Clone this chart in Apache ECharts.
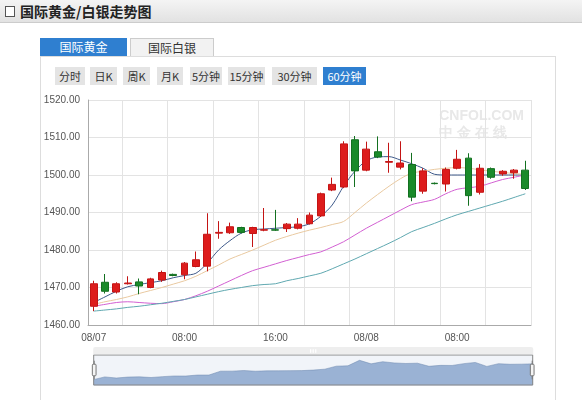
<!DOCTYPE html>
<html>
<head>
<meta charset="utf-8">
<script src="https://cdn.jsdelivr.net/npm/echarts@6/dist/echarts.min.js"></script>
<style>
body{margin:0;width:582px;height:400px;overflow:hidden;background:#fff;font-family:"Noto Sans CJK SC",sans-serif;position:relative}
#bar{position:absolute;left:0;top:0;width:582px;height:22px;background:linear-gradient(#f4f4f4,#e2e2e2);border-bottom:1px solid #ccc}
#bar span{position:absolute;left:20px;top:1px;font-size:14px;font-weight:bold;color:#222}
#bar i{position:absolute;left:5px;top:6px;width:8px;height:9px;border:1px solid #555;background:#fff}
.tab{position:absolute;top:38px;height:18px;font-size:12px;line-height:18px;text-align:center}
#panel{position:absolute;left:40px;top:56px;width:514px;height:350px;border:1px solid #ddd;border-bottom:none}
.btn{position:absolute;top:67px;height:18px;line-height:18px;font-size:11px;background:#e4e4e4;color:#333;text-align:center}
#map{position:absolute;left:0;top:0;width:582px;height:400px}
</style>
</head>
<body>
<div id="bar"><i></i><span>国际黄金/白银走势图</span></div>
<div id="panel"></div>
<div class="tab" style="left:40px;width:87px;background:#2f7fd0;color:#fff">国际黄金</div>
<div class="tab" style="left:130px;width:82px;background:#f2f2f2;border:1px solid #ccc;border-bottom:none;color:#333;height:17px">国际白银</div>
<div id="btns"></div>
<div id="map"></div>
<script>
var categories = [];
var btnNames = ['分时','日K','周K','月K','5分钟','15分钟','30分钟','60分钟'];
var btnLeft = [55,90,123,157,190,228,272,323];
var btnWidth = [30,27,27,26,32,37,45,43];
var yTicks = [1460,1470,1480,1490,1500,1510,1520];
// open, close, low, high
var kdata = [
 [1465,1471,1463.7,1471.8],[1471.4,1469,1468.4,1473.6],[1468.8,1471,1468.4,1471.4],[1471,1471.2,1470.8,1473],
 [1471.5,1470.4,1468.2,1472.4],[1470,1472.3,1469.8,1472.6],[1472,1474,1471.5,1474.5],[1473.5,1473.2,1473,1473.7],
 [1473.4,1476.5,1472.2,1476.8],[1475.6,1477.4,1475.4,1479.6],[1475.7,1484.2,1474.3,1489.8],[1484.5,1484.7,1483,1487.7],
 [1484.6,1486.2,1484.3,1487.3],[1486,1484.7,1484.4,1486.2],[1484.4,1486,1480.8,1486.2],[1485.3,1485.4,1485,1491.2],
 [1485.4,1485.3,1485.1,1490.7],[1485.7,1486.9,1484.8,1487.2],[1485.8,1486.9,1485.5,1488.5],[1487,1489.3,1486.8,1490],
 [1489.1,1495,1488.8,1495.3],[1496,1497.5,1495.7,1499.3],[1496.8,1508.3,1496.5,1509],[1509.4,1501.1,1496.8,1510.4],
 [1501.3,1506.9,1501,1508.9],[1506.2,1504.8,1504.5,1510.3],[1503.4,1503.6,1500.6,1508.6],[1502.1,1503.2,1501.5,1509],
 [1502.8,1494.1,1493,1505.9],[1495.7,1501.1,1495,1501.8],[1497.8,1497.7,1497.5,1498],[1497.6,1501.5,1495.6,1502],
 [1501.8,1504.2,1501.5,1506.7],[1504.5,1494.5,1491.8,1505.8],[1495.4,1501.8,1494.8,1502.9],[1501.7,1499.4,1499,1502],
 [1500.3,1501,1499.8,1501.3],[1500.6,1501.3,1499,1501.6],[1501.3,1496.4,1496,1503.8]
];
var ma5 = [1466,1467.5,1469,1470.2,1470.8,1471.3,1471.8,1472.6,1473.2,1473.8,1476.5,1480,1482.5,1484.5,1485.4,1485.6,
 1485.8,1486,1486.2,1487,1489,1492,1497,1501,1503.8,1504.8,1504.9,1504,1503,1501.8,1500.2,1500,1500,1500,1500,1500,1500,1500,1500];
var ma10 = [1465.5,1466.2,1466.8,1467.5,1468.4,1469.2,1470,1470.9,1471.8,1473,1474.5,1476,1477.6,1478.8,1480,1481.3,
 1482.6,1483.6,1484.5,1485.3,1486,1486.8,1487.6,1490,1492.5,1494.8,1497,1499,1500.5,1501,1501.5,1501.8,1502,1501.8,1501.4,1501,1500.7,1500.4,1500.2];
var ma20 = [1465,1465.5,1466,1466.2,1466,1465.8,1465.7,1466.2,1466.8,1467.8,1469,1470.4,1471.8,1473.2,1474.5,1475.4,
 1476.3,1477.2,1478,1478.8,1479.5,1480.8,1482.2,1484,1485.8,1487.4,1489,1490.6,1492.1,1492.8,1493.5,1495,1496.2,1496.6,1497,1497.9,1498.8,1499.4,1500];
var ma30 = [1463.7,1464,1464.3,1464.7,1465,1465.4,1465.8,1466.3,1466.8,1467.5,1468.2,1468.9,1469.5,1470,1470.5,1470.8,
 1471,1471.8,1472.4,1473.1,1473.8,1475,1476.3,1477.6,1479,1480.4,1481.8,1483.3,1484.9,1486,1487.1,1488.3,1489.4,1490.3,1491.2,1492.1,1493,1494,1495];

for (var i = 0; i < kdata.length; i++) {
  var d = i < 24 ? '08/07' : '08/08', h = i % 24;
  categories.push(d + ' ' + (h < 10 ? '0' : '') + h + ':00');
}

var btns = document.getElementById('btns');
btnNames.forEach(function (n, i) {
  var b = document.createElement('div');
  b.className = 'btn';
  b.style.left = btnLeft[i] + 'px';
  b.style.width = btnWidth[i] + 'px';
  b.textContent = n;
  if (i == 7) { b.style.background = '#2f7fd0'; b.style.color = '#fff'; }
  btns.appendChild(b);
});

var chart = echarts.init(document.getElementById('map'));
function maLine(name, data, color) {
  return { name: name, type: 'line', data: data, symbol: 'none', smooth: 0.3,
    lineStyle: { width: 1, color: color }, z: 1 };
}
chart.setOption({
  animation: false,
  graphic: [{ type: 'text', right: 58, top: 108, z: 0,
    style: { text: 'CNFOL.COM\n中 金 在 线', fill: '#e8e8e8', font: 'bold 14px sans-serif', lineHeight: 17, align: 'center' } }],
  grid: { left: 88, right: 51, top: 100, bottom: 75 },
  xAxis: {
    type: 'category', data: categories, boundaryGap: true,
    axisLine: { lineStyle: { color: '#aaa' } },
    axisTick: { show: false },
    splitLine: { show: true, interval: function (i) { return i % 4 == 3; }, lineStyle: { color: '#e3e3e3' } },
    axisLabel: { interval: function (i) { return i % 8 == 0; }, color: '#555', fontSize: 10,
      formatter: function (v) { var p = v.split(' '); return p[1] == '00:00' ? p[0] : p[1]; } }
  },
  yAxis: {
    type: 'value', min: yTicks[0], max: yTicks[yTicks.length - 1], interval: 10,
    axisLine: { show: true, lineStyle: { color: '#aaa' } },
    splitLine: { lineStyle: { color: '#e3e3e3' } },
    axisLabel: { color: '#555', fontSize: 10, formatter: function (v) { return v.toFixed(2); } }
  },
  dataZoom: [{
    type: 'slider', left: 90, right: 52, top: 347, height: 31, start: 0, end: 100,
    borderColor: '#888', backgroundColor: '#fff', fillerColor: 'rgba(120,150,200,0.1)',
    dataBackground: { lineStyle: { color: '#6a86ad' }, areaStyle: { color: '#9fb6d6', opacity: 1 } },
    selectedDataBackground: { lineStyle: { color: '#6a86ad' }, areaStyle: { color: '#9fb6d6', opacity: 1 } },
    handleSize: '60%', handleStyle: { color: '#f4f4f4', borderColor: '#777' },
    moveHandleSize: 8, moveHandleStyle: { color: '#ddd' },
    textStyle: { color: '#555', fontSize: 10 },
    labelFormatter: function (i) { return categories[i].split(' ')[0] == '08/07' ? '8月7日' : '8月8日'; }
  }],
  series: [
    { name: 'K', type: 'candlestick', data: kdata, barWidth: '65%', z: 3,
      itemStyle: { color: '#dd1c1c', color0: '#1a8a2a', borderColor: '#c41414', borderColor0: '#137020' } },
    maLine('MA5', ma5, '#3e5a8a'),
    maLine('MA10', ma10, '#e9c9a0'),
    maLine('MA20', ma20, '#d25fd2'),
    maLine('MA30', ma30, '#5fa8b0')
  ]
});
</script>
</body>
</html>
